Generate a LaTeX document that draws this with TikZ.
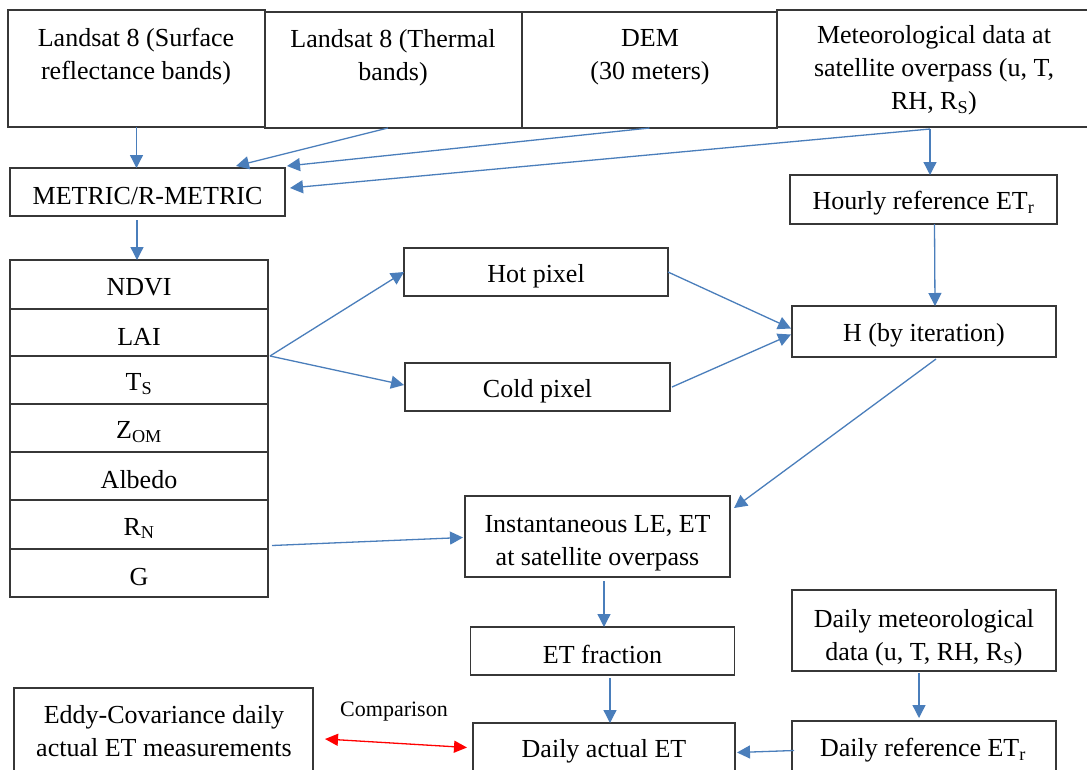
\documentclass[tikz,border=0pt]{standalone}
\usepackage{fontspec}
\setmainfont{Liberation Serif}
\usetikzlibrary{arrows.meta,calc}
\definecolor{arrblue}{RGB}{74,126,187}
\definecolor{boxgray}{RGB}{55,55,55}
\begin{document}
\begin{tikzpicture}[x=1pt,y=-1pt,
  box/.style={draw=boxgray,line width=1.3pt,rectangle,inner sep=0pt,outer sep=0pt},
  txt/.style={font=\fontsize{26}{33}\selectfont,align=center,inner sep=0pt},
  smalltxt/.style={font=\fontsize{22}{26}\selectfont,inner sep=0pt},
  arr/.style={draw=arrblue,line width=1.3pt,-{Triangle[length=13pt,width=13pt]}},
  cmp/.style={draw=red,line width=1.3pt,{Triangle[length=13pt,width=12pt]}-{Triangle[length=13pt,width=12pt]}}]
\fill[white] (0,0) rectangle (1087,769);
\useasboundingbox (0,0) rectangle (1087,769);

% top row
\node[box,minimum width=257pt,minimum height=117pt] (b1) at (136.5,68.5) {};
\node[txt] (b1t) at (136,56.5) {Landsat 8 (Surface\\reflectance bands)};
\node[box,minimum width=257pt,minimum height=116pt] (b2) at (393.5,70) {};
\node[txt] (b2t) at (393,57.5) {Landsat 8 (Thermal\\bands)};
\node[box,minimum width=255pt,minimum height=116pt] (b3) at (649.5,70) {};
\node[txt] (b3t) at (650,57.5) {DEM\\(30 meters)};
\node[box,minimum width=312pt,minimum height=117pt] (b4) at (933,68.5) {};
\node[txt] (b4t) at (934,70.5) {Meteorological data at\\satellite overpass (u, T,\\RH, R\textsubscript{S})};

\node[box,minimum width=275pt,minimum height=48pt] (metric) at (147.5,192) {};
\node[txt] (metrict) at ($(metric)+(0,4)$) {METRIC/R-METRIC};
\node[box,minimum width=267pt,minimum height=49pt] (hourly) at (923.5,199.5) {};
\node[txt] (hourlyt) at ($(hourly)+(0,4)$) {Hourly reference ET\textsubscript{r}};

% table
\node[box,minimum width=258pt,minimum height=49pt] (ndvi) at (139,284.5) {};
\node[txt] (ndvit) at ($(ndvi)+(0,3)$) {NDVI};
\node[box,minimum width=258pt,minimum height=47pt] (lai) at (139,332.5) {};
\node[txt] (lait) at ($(lai)+(0,4)$) {LAI};
\node[box,minimum width=258pt,minimum height=48pt] (ts) at (139,380) {};
\node[txt] (tst) at ($(ts)+(0,4)$) {T\textsubscript{S}};
\node[box,minimum width=258pt,minimum height=48pt] (zom) at (139,428) {};
\node[txt] (zomt) at ($(zom)+(0,4)$) {Z\textsubscript{OM}};
\node[box,minimum width=258pt,minimum height=48pt] (albedo) at (139,476) {};
\node[txt] (albedot) at ($(albedo)+(0,4)$) {Albedo};
\node[box,minimum width=258pt,minimum height=49pt] (rn) at (139,524.5) {};
\node[txt] (rnt) at ($(rn)+(0,4)$) {R\textsubscript{N}};
\node[box,minimum width=258pt,minimum height=48pt] (g) at (139,573) {};
\node[txt] (gt) at ($(g)+(0,4)$) {G};

\node[box,minimum width=264pt,minimum height=48pt] (hot) at (536,272) {};
\node[txt] (hott) at ($(hot)+(0,4)$) {Hot pixel};
\node[box,minimum width=265pt,minimum height=48pt] (cold) at (537.5,387) {};
\node[txt] (coldt) at ($(cold)+(0,4)$) {Cold pixel};
\node[box,minimum width=264pt,minimum height=51pt] (H) at (924,331.5) {};
\node[txt] (Ht) at ($(H)+(0,4)$) {H (by iteration)};
\node[box,minimum width=265pt,minimum height=81pt] (inst) at (597.5,536.5) {};
\node[txt] (instt) at ($(inst)+(0,7)$) {Instantaneous LE, ET\\at satellite overpass};
\node[box,minimum width=264pt,minimum height=48pt] (etf) at (602.5,651) {};
\node[txt] (etft) at ($(etf)+(0,3)$) {ET fraction};
\node[box,minimum width=264pt,minimum height=81pt] (dmet) at (924,630.5) {};
\node[txt] (dmett) at ($(dmet)+(0,7)$) {Daily meteorological\\data (u, T, RH, R\textsubscript{S})};

% bottom row (cut by page edge)
\node[box,minimum width=264pt,minimum height=59pt] (dref) at (924,750.5) {};
\node[txt] (dreft) at (923,750) {Daily reference ET\textsubscript{r}};
\node[box,minimum width=262pt,minimum height=57pt] (dact) at (604,751.5) {};
\node[txt] (dactt) at (604,751) {Daily actual ET};
\node[box,minimum width=299pt,minimum height=92pt] (eddy) at (163.5,734) {};
\node[txt] (eddyt) at (164,731) {Eddy-Covariance daily\\actual ET measurements};
\node[smalltxt] (cmpl) at (394,712) {Comparison};

% connectors
\draw[arr] (b1.south) -- (b1.south |- metric.north);
\draw[arr] ($(b2.south)+(-5.5,0)$) -- ($(metric.north)+(88.5,-2)$);
\draw[arr] (b3.south) -- ($(metric.north east)+(2,-2)$);
\coordinate (mj) at ($(b4.south)+(-3,2)$);
\draw[arr] (mj) -- ($(metric.east)+(5,-4)$);
\draw[arr] (mj) -- (mj |- hourly.north);
\draw[arr] ($(metric.south)+(-10.5,4)$) -- ($(ndvi.north)+(-2,0)$);
\coordinate (tj) at ($(lai.south east)+(2,0)$);
\draw[arr] (tj) -- (hot.west);
\draw[arr] (tj) -- ($(cold.west)+(-1,-2)$);
\draw[arr] (hot.east) -- ($(H.west)+(-1,-3)$);
\draw[arr] ($(cold.east)+(2,0)$) -- ($(H.west)+(-1,3)$);
\draw[arr] ($(hourly.south)+(11,0)$) -- ($(H.north)+(11,0)$);
\draw[arr] ($(H.south)+(12,2)$) -- ($(inst.north east)+(4,12)$);
\draw[arr] ($(rn.east)+(4,21)$) -- ($(inst.west)+(-2,1)$);
\draw[arr] ($(inst.south)+(6.5,4)$) -- ($(etf.north)+(1.5,0)$);
\draw[arr] ($(etf.south)+(7.5,3)$) -- ($(dact.north)+(6,0)$);
\draw[arr] ($(dmet.south)+(-5,2)$) -- ($(dref.north)+(-5,-3)$);
\draw[arr] ($(dref.west)+(2,0)$) -- ($(dact.east)+(2,1)$);
\draw[cmp] ($(eddy.east)+(12,5)$) -- ($(dact.west)+(-6,-4)$);
\end{tikzpicture}
\end{document}
